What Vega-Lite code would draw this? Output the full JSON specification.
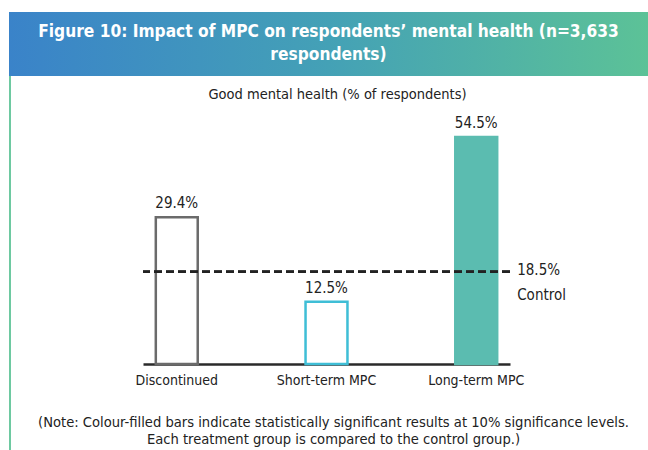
{
  "$schema": "https://vega.github.io/schema/vega-lite/v6.json",
  "background": "white",
  "padding": {"left": 9, "top": 12, "right": 0, "bottom": 0},
  "spacing": 0,
  "bounds": "flush",
  "config": {
    "view": {"stroke": null},
    "font": "DejaVu Sans Condensed, Liberation Sans Narrow, Liberation Sans, sans-serif"
  },
  "vconcat": [
    {
      "width": 639,
      "height": 64,
      "data": {"values": [{"k": 1}]},
      "layer": [
        {
          "mark": {
            "type": "rect",
            "color": {
              "gradient": "linear",
              "x1": 0, "x2": 1, "y1": 0, "y2": 0,
              "stops": [
                {"offset": 0, "color": "#3a83c9"},
                {"offset": 0.5, "color": "#44a1b6"},
                {"offset": 1, "color": "#5cc297"}
              ]
            }
          },
          "encoding": {}
        },
        {
          "mark": {
            "type": "text",
            "text": ["Figure 10: Impact of MPC on respondents’ mental health (n=3,633", "respondents)"],
            "color": "white",
            "fontSize": 17.2,
            "fontWeight": "bold",
            "lineHeight": 23,
            "align": "center",
            "baseline": "middle",
            "dy": -12
          },
          "encoding": {}
        }
      ]
    },
    {
      "hconcat": [
        {
          "width": 2,
          "height": 374,
          "view": {"fill": "#6ec9a1", "stroke": null},
          "data": {"values": [{"k": 1}]},
          "mark": {"type": "text", "text": ""},
          "encoding": {}
        },
        {
          "width": 367,
          "height": 288,
          "title": {
            "text": "Good mental health (% of respondents)",
            "fontSize": 14.5,
            "fontWeight": "normal",
            "color": "#222222",
            "anchor": "middle",
            "baseline": "top",
            "offset": -13,
            "dy": 13,
            "dx": 11
          },
          "data": {
            "values": [
              {"group": "Discontinued", "value": 0.294},
              {"group": "Short-term MPC", "value": 0.125},
              {"group": "Long-term MPC", "value": 0.545}
            ]
          },
          "layer": [
            {
              "mark": {"type": "bar", "strokeWidth": 2.5},
              "encoding": {
                "x": {
                  "field": "group",
                  "type": "nominal",
                  "sort": null,
                  "scale": {"paddingInner": 0.72, "paddingOuter": 0.0855},
                  "axis": {
                    "title": [
                      "(Note: Colour-filled bars indicate statistically significant results at 10% significance levels.",
                      "Each treatment group is compared to the control group.)"
                    ],
                    "titleFontSize": 14.6,
                    "titleFontWeight": "normal",
                    "titleColor": "#222222",
                    "titlePadding": 27,
                    "titleLineHeight": 17.5,
                    "titleX": 190,
                    "labelAngle": 0,
                    "labelFontSize": 14,
                    "labelColor": "#222222",
                    "labelPadding": 9,
                    "ticks": false,
                    "domainColor": "#2a2a2a",
                    "domainWidth": 2.5
                  }
                },
                "y": {
                  "field": "value",
                  "type": "quantitative",
                  "scale": {"domain": [0, 0.455], "range": [288, 61], "clamp": true, "nice": false, "zero": true},
                  "axis": null
                },
                "fill": {
                  "field": "group",
                  "type": "nominal",
                  "scale": {
                    "domain": ["Discontinued", "Short-term MPC", "Long-term MPC"],
                    "range": ["#ffffff", "#ffffff", "#5bbcb0"]
                  },
                  "legend": null
                },
                "stroke": {
                  "field": "group",
                  "type": "nominal",
                  "scale": {
                    "domain": ["Discontinued", "Short-term MPC", "Long-term MPC"],
                    "range": ["#6b6b6b", "#3fbed6", "#5bbcb0"]
                  },
                  "legend": null
                }
              }
            },
            {
              "mark": {"type": "text", "baseline": "bottom", "dy": -6, "fontSize": 15, "color": "#222222"},
              "encoding": {
                "x": {"field": "group", "type": "nominal", "sort": null},
                "y": {"field": "value", "type": "quantitative"},
                "text": {"field": "value", "type": "quantitative", "format": ".1%"}
              }
            },
            {
              "mark": {"type": "rule", "strokeDash": [8, 4], "strokeWidth": 2.5, "color": "#222222"},
              "encoding": {"y": {"datum": 0.185, "type": "quantitative"}}
            },
            {
              "data": {"values": [{"label": "Control", "value": 0.185}]},
              "mark": {"type": "text", "align": "left", "baseline": "middle", "dx": 20, "dy": -2, "fontSize": 15, "color": "#222222"},
              "encoding": {
                "x": {"datum": "Long-term MPC", "bandPosition": 1},
                "y": {"field": "value", "type": "quantitative"},
                "text": {"field": "value", "type": "quantitative", "format": ".1%"}
              }
            },
            {
              "data": {"values": [{"label": "Control", "value": 0.185}]},
              "mark": {"type": "text", "align": "left", "baseline": "middle", "dx": 20, "dy": 23, "fontSize": 15, "color": "#222222"},
              "encoding": {
                "x": {"datum": "Long-term MPC", "bandPosition": 1},
                "y": {"field": "value", "type": "quantitative"},
                "text": {"field": "label", "type": "nominal"}
              }
            }
          ]
        }
      ],
      "spacing": 132,
      "bounds": "flush"
    }
  ]
}
